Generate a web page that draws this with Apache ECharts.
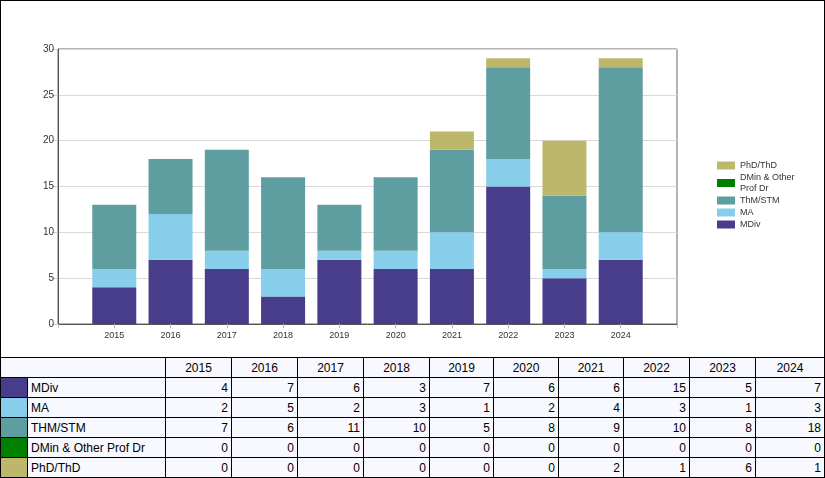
<!DOCTYPE html>
<html>
<head>
    <meta charset="utf-8">
    <title>Enrollment by Degree</title>
    <script src="https://cdn.jsdelivr.net/npm/echarts@6/dist/echarts.min.js"></script>
    <style>
        body { margin: 0; background: #fff; font-family: "Liberation Sans", Arial, sans-serif; }
        #wrap { position: relative; width: 825px; height: 478px; }
        #main { position: absolute; left: 0; top: 0; width: 825px; height: 358px;
                border: 1px solid #000; border-bottom: none; box-sizing: border-box; }
        #tbl { position: absolute; left: 0; top: 357px; width: 825px; border-collapse: collapse;
               table-layout: fixed; background: #f8f8ff; font-size: 12px; color: #000; }
        #tbl td { border: 1px solid #000; height: 19px; padding: 0 3px; white-space: nowrap; overflow: hidden; }
        #tbl td.num { text-align: right; }
        #tbl td.hd { text-align: center; }
        #tbl td.sw { padding: 0; }
    </style>
</head>
<body>
<div id="wrap">
    <div id="main"></div>
    <table id="tbl"></table>
</div>

<script type="text/javascript">
    // data
    var years = ['2015', '2016', '2017', '2018', '2019', '2020', '2021', '2022', '2023', '2024'];
    var mdiv  = [4, 7, 6, 3, 7, 6, 6, 15, 5, 7];
    var ma    = [2, 5, 2, 3, 1, 2, 4, 3, 1, 3];
    var thm   = [7, 6, 11, 10, 5, 8, 9, 10, 8, 18];
    var dmin  = [0, 0, 0, 0, 0, 0, 0, 0, 0, 0];
    var phd   = [0, 0, 0, 0, 0, 0, 2, 1, 6, 1];

    var seriesNames  = ['MDiv', 'MA', 'THM/STM', 'DMin & Other Prof Dr', 'PhD/ThD'];
    var seriesValues = [mdiv, ma, thm, dmin, phd];
    var seriesColors = ['#483d8b', '#87ceeb', '#5f9ea0', '#008000', '#bdb76b'];

    var chart = echarts.init(document.getElementById('main'));

    // the axis has an empty slot at each end, so the first and last years sit one step in
    var axisData = [''].concat(years).concat(['']);

    var series = [];
    for (var i = 0; i < seriesNames.length; i++) {
        series.push({
            name: seriesNames[i],
            type: 'bar',
            stack: 'total',
            barWidth: 44,
            itemStyle: { color: seriesColors[i] },
            data: ['-'].concat(seriesValues[i]).concat(['-'])
        });
    }

    var option = {
        animation: false,
        textStyle: { fontFamily: '"Liberation Sans", Arial, sans-serif' },
        grid: {
            left: 57, right: 147, top: 48, bottom: 34,
            show: true,
            borderColor: '#666',
            borderWidth: 1
        },
        legend: {
            orient: 'vertical',
            left: 711,
            top: 154,
            itemWidth: 18,
            itemHeight: 8,
            itemGap: 1,
            icon: 'rect',
            textStyle: { fontSize: 9, color: '#333', lineHeight: 11 },
            data: ['PhD/ThD', 'DMin & Other Prof Dr', 'THM/STM', 'MA', 'MDiv'],
            formatter: function (name) {
                if (name === 'THM/STM') return 'ThM/STM';
                if (name === 'DMin & Other Prof Dr') return 'DMin & Other\nProf Dr';
                return name;
            }
        },
        xAxis: {
            type: 'category',
            data: axisData,
            boundaryGap: false,
            splitLine: { show: false },
            axisLine: { lineStyle: { color: '#555' } },
            axisTick: { show: true, length: 4, interval: 0, lineStyle: { color: '#bbb' } },
            axisLabel: { fontSize: 9, color: '#333', margin: 7, interval: 0 }
        },
        yAxis: {
            type: 'value',
            min: 0,
            max: 30,
            interval: 5,
            axisLine: { show: true, lineStyle: { color: '#555' } },
            axisTick: { show: true, length: 6, lineStyle: { color: '#ccc' } },
            axisLabel: { fontSize: 10, color: '#333', margin: 4 },
            splitLine: { lineStyle: { color: '#d9d9d9' } }
        },
        series: series
    };
    chart.setOption(option);

    // data table under the chart
    var widths = [27, 138, 66, 66, 66, 66, 64, 65, 65, 66, 66, 69];
    var html = '<colgroup>';
    for (var w = 0; w < widths.length; w++) html += '<col style="width:' + widths[w] + 'px">';
    html += '</colgroup><tr><td colspan="2"></td>';
    for (var y = 0; y < years.length; y++) html += '<td class="hd">' + years[y] + '</td>';
    html += '</tr>';
    for (var r = 0; r < seriesNames.length; r++) {
        html += '<tr><td class="sw" style="background:' + seriesColors[r] + '"></td>';
        html += '<td>' + seriesNames[r] + '</td>';
        for (var c = 0; c < years.length; c++) html += '<td class="num">' + seriesValues[r][c] + '</td>';
        html += '</tr>';
    }
    document.getElementById('tbl').innerHTML = html;
</script>
</body>
</html>
